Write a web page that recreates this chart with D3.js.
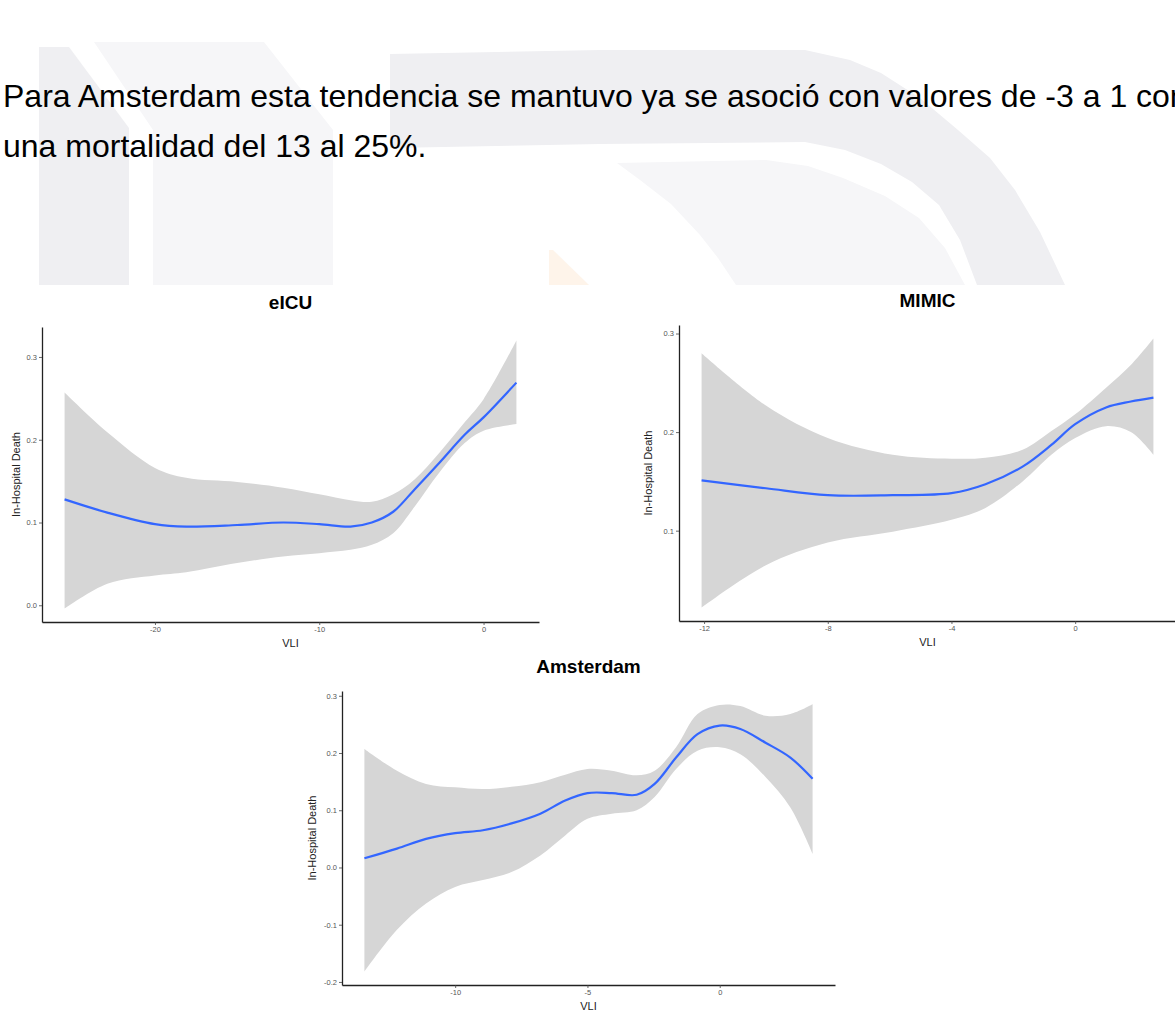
<!DOCTYPE html>
<html>
<head>
<meta charset="utf-8">
<script src="https://cdn.jsdelivr.net/npm/d3@7"></script>
<style>
  html, body { margin: 0; padding: 0; background: #fff; }
  svg { display: block; }
  text { font-family: "Liberation Sans", Arial, Helvetica, sans-serif; }
</style>
</head>
<body>
<svg id="page" width="1175" height="1013"></svg>
<script>
// ---- text of the paragraph above the figure ----
const paragraphLines = [
  "Para Amsterdam esta tendencia se mantuvo ya se asoció con valores de -3 a 1 con",
  "una mortalidad del 13 al 25%."
];

// ---- eICU: smoothed in-hospital death vs VLI ----
const eicuVLI   = [-25.5, -22.9, -20.0, -18.1, -15.0, -12.2, -10.0, -8.1, -6.8, -5.5, -4.2, -2.7, -1.15, 0.0, 2.0];
const eicuFit   = [0.128, 0.112, 0.098, 0.095, 0.097, 0.100, 0.098, 0.095, 0.100, 0.113, 0.140, 0.172, 0.206, 0.227, 0.269];
const eicuUpper = [0.257, 0.209, 0.166, 0.154, 0.149, 0.142, 0.134, 0.127, 0.125, 0.134, 0.152, 0.184, 0.221, 0.249, 0.320];
const eicuLower = [-0.004, 0.026, 0.036, 0.040, 0.051, 0.059, 0.063, 0.067, 0.073, 0.087, 0.119, 0.160, 0.196, 0.211, 0.219];
const eicuXTicks = [-20, -10, 0];
const eicuYTicks = [0.0, 0.1, 0.2, 0.3];

// ---- MIMIC ----
const mimicVLI   = [-12.08, -10.0, -8.0, -5.9, -4.0, -2.9, -1.7, -0.77, 0.0, 1.0, 1.8, 2.53];
const mimicFit   = [0.151, 0.143, 0.136, 0.136, 0.138, 0.147, 0.165, 0.187, 0.208, 0.225, 0.231, 0.235];
const mimicUpper = [0.280, 0.227, 0.194, 0.177, 0.173, 0.174, 0.182, 0.201, 0.218, 0.245, 0.268, 0.295];
const mimicLower = [0.022, 0.065, 0.088, 0.099, 0.111, 0.123, 0.150, 0.177, 0.194, 0.206, 0.200, 0.177];
const mimicXTicks = [-12, -8, -4, 0];
const mimicYTicks = [0.1, 0.2, 0.3];

// ---- Amsterdam ----
const amsVLI   = [-13.43, -12.2, -11.1, -10.0, -8.95, -7.87, -6.78, -5.84, -5.0, -4.08, -3.14, -2.46, -1.65, -0.84, 0.0, 0.78, 1.73, 2.67, 3.51];
const amsFit   = [0.016, 0.033, 0.050, 0.060, 0.065, 0.077, 0.094, 0.117, 0.130, 0.130, 0.127, 0.146, 0.192, 0.233, 0.248, 0.242, 0.218, 0.192, 0.155];
const amsUpper = [0.207, 0.169, 0.146, 0.140, 0.137, 0.141, 0.149, 0.162, 0.172, 0.169, 0.161, 0.169, 0.210, 0.268, 0.284, 0.282, 0.265, 0.268, 0.285];
const amsLower = [-0.182, -0.109, -0.063, -0.034, -0.022, -0.008, 0.021, 0.056, 0.085, 0.094, 0.100, 0.123, 0.172, 0.204, 0.210, 0.198, 0.158, 0.105, 0.024];
const amsXTicks = [-10, -5, 0];
const amsYTicks = [-0.2, -0.1, 0.0, 0.1, 0.2, 0.3];

const svg = d3.select("#page");

// ---- faint document watermark behind the paragraph ----
const watermark = [
  { fill: "#efeff2", pts: [[39,47],[69,47],[129,128],[129,285],[39,285]] },
  { fill: "#f6f6f8", pts: [[94,42],[264,42],[333,130],[333,285],[153,285],[153,130]] },
  { fill: "#efeff2", pts: [[390,54],[600,50],[805,50],[850,60],[881,73],[920,98],[958,130],[990,158],[1015,190],[1040,232],[1065,285],
                           [977,285],[960,240],[939,205],[912,182],[881,164],[845,150],[805,142],[600,144],[390,148]] },
  { fill: "#f6f6f8", pts: [[617,163],[766,160],[808,166],[843,178],[885,196],[919,218],[945,248],[965,285],
                           [736,285],[718,258],[700,235],[671,204],[640,180]] },
  { fill: "#fef4ea", pts: [[549,250],[553,250],[589,285],[549,285]] }
];
svg.append("g").selectAll("path").data(watermark).join("path")
  .attr("d", d => "M" + d.pts.map(p => p.join(",")).join("L") + "Z")
  .attr("fill", d => d.fill);

// ---- paragraph ----
svg.append("g").selectAll("text").data(paragraphLines).join("text")
  .attr("x", 3)
  .attr("y", (d, i) => 107 + i * 50)
  .attr("font-size", 32)
  .attr("fill", "#000")
  .text(d => d);

// ---- one smoothing panel ----
function panel(cfg) {
  const { title, vli, fit, upper, lower, xTicks, yTicks, x0, x1, yTop, yBottom, yLabelGap } = cfg;
  const ext = (arr) => {
    const [a, b] = d3.extent(arr);
    const pad = (b - a) * 0.05;
    return [a - pad, b + pad];
  };
  const x = d3.scaleLinear().domain(ext(vli)).range([x0, x1]);
  const y = d3.scaleLinear().domain(ext(lower.concat(upper))).range([yBottom, yTop]);
  const rows = vli.map((v, i) => ({ v, fit: fit[i], lo: lower[i], hi: upper[i] }));
  const g = svg.append("g");

  g.append("path")
    .datum(rows)
    .attr("fill", "#d6d6d6")
    .attr("d", d3.area().curve(d3.curveCatmullRom.alpha(0.5))
      .x(d => x(d.v)).y0(d => y(d.lo)).y1(d => y(d.hi)));

  g.append("path")
    .datum(rows)
    .attr("fill", "none")
    .attr("stroke", "#3366ff")
    .attr("stroke-width", 2.2)
    .attr("d", d3.line().curve(d3.curveCatmullRom.alpha(0.5))
      .x(d => x(d.v)).y(d => y(d.fit)));

  const xAxis = g.append("g")
    .attr("transform", `translate(0,${yBottom})`)
    .call(d3.axisBottom(x).tickValues(xTicks).tickSize(3).tickSizeOuter(0).tickPadding(2)
      .tickFormat(d => String(d)));
  const yAxis = g.append("g")
    .attr("transform", `translate(${x0},0)`)
    .call(d3.axisLeft(y).tickValues(yTicks).tickSize(3).tickSizeOuter(0).tickPadding(2)
      .tickFormat(d => d.toFixed(1)));
  [xAxis, yAxis].forEach(a => {
    a.select(".domain").attr("stroke", "#222").attr("stroke-width", 1.3);
    a.selectAll(".tick line").attr("stroke", "#444").attr("stroke-width", 0.8);
    a.selectAll(".tick text").attr("fill", "#555").attr("font-size", 7.5)
      .attr("font-family", "'Liberation Sans', Arial, sans-serif");
  });

  g.append("text")
    .attr("x", (x0 + x1) / 2).attr("y", yBottom + 25)
    .attr("text-anchor", "middle").attr("font-size", 11).attr("fill", "#222")
    .text("VLI");
  g.append("text")
    .attr("transform", `translate(${x0 - yLabelGap},${(yTop + yBottom) / 2}) rotate(-90)`)
    .attr("text-anchor", "middle").attr("font-size", 11).attr("fill", "#222")
    .text("In-Hospital Death");
  g.append("text")
    .attr("x", (x0 + x1) / 2).attr("y", yTop - 18)
    .attr("text-anchor", "middle").attr("font-size", 19).attr("font-weight", "bold").attr("fill", "#000")
    .text(title);
}

panel({ title: "eICU", vli: eicuVLI, fit: eicuFit, upper: eicuUpper, lower: eicuLower,
        xTicks: eicuXTicks, yTicks: eicuYTicks, x0: 42, x1: 539, yTop: 327, yBottom: 622, yLabelGap: 22 });
panel({ title: "MIMIC", vli: mimicVLI, fit: mimicFit, upper: mimicUpper, lower: mimicLower,
        xTicks: mimicXTicks, yTicks: mimicYTicks, x0: 679, x1: 1176, yTop: 325, yBottom: 621, yLabelGap: 27 });
panel({ title: "Amsterdam", vli: amsVLI, fit: amsFit, upper: amsUpper, lower: amsLower,
        xTicks: amsXTicks, yTicks: amsYTicks, x0: 342, x1: 835, yTop: 691, yBottom: 985, yLabelGap: 26 });
</script>
</body>
</html>
